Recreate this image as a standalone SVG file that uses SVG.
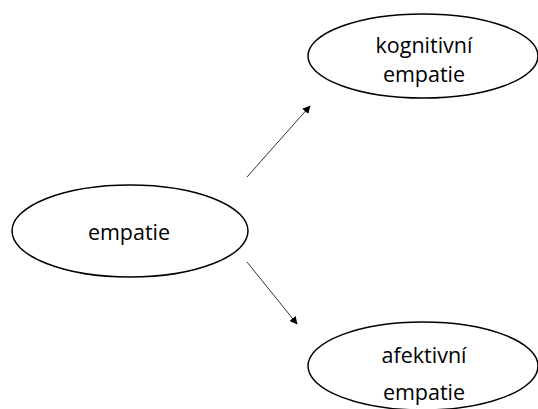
<svg xmlns="http://www.w3.org/2000/svg" width="538" height="409" viewBox="0 0 538 409">
<style>
.n{fill:#fff;stroke:#000;stroke-width:1.5}
.t{font-family:"Open Sans","Liberation Sans",sans-serif;font-size:21.5px;fill:#000;text-anchor:middle}
.c{stroke:#333;stroke-width:1;fill:none;marker-end:url(#a)}
</style>
<defs>
<marker id="a" viewBox="0 0 10 10" refX="9" refY="5" markerWidth="8" markerHeight="8" markerUnits="userSpaceOnUse" orient="auto">
<path d="M0,0L10,5L0,10z" fill="#000"/>
</marker>
</defs>
<rect width="538" height="409" fill="#fff"/>
<g id="connectors">
<line class="c" x1="247" y1="177" x2="310" y2="106"/>
<line class="c" x1="247" y1="262" x2="297" y2="324"/>
</g>
<g id="empatie">
<ellipse class="n" cx="130" cy="231" rx="118" ry="46"/>
<text class="t" x="129" y="240">empatie</text>
</g>
<g id="kognitivni">
<ellipse class="n" cx="423" cy="56" rx="115" ry="42"/>
<text class="t" x="424" y="53">kognitivní</text>
<text class="t" x="424" y="82">empatie</text>
</g>
<g id="afektivni">
<ellipse class="n" cx="423" cy="366" rx="115" ry="44"/>
<text class="t" x="424" y="363">afektivní</text>
<text class="t" x="424" y="400">empatie</text>
</g>
</svg>
